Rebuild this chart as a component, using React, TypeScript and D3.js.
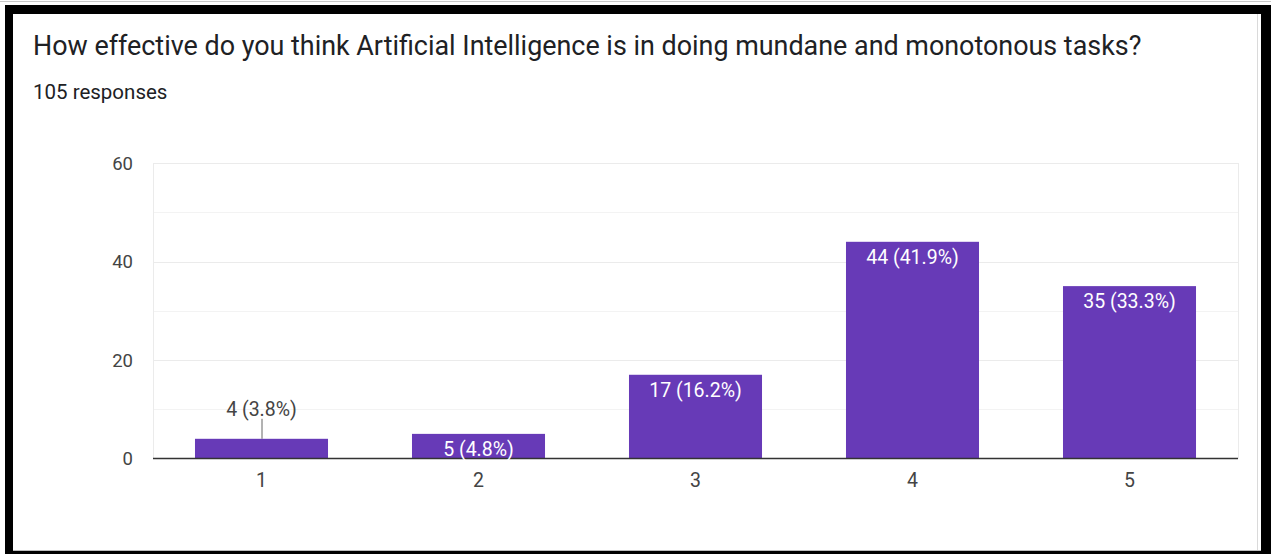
import { useEffect, useRef } from "react";
import * as d3 from "d3";

const categories = ["1", "2", "3", "4", "5"];
const counts = [4, 5, 17, 44, 35];
const percents = ["3.8%", "4.8%", "16.2%", "41.9%", "33.3%"];
const yTicks = [0, 20, 40, 60];
const title = "How effective do you think Artificial Intelligence is in doing mundane and monotonous tasks?";
const subtitle = "105 responses";

export default function App() {
  const ref = useRef<HTMLDivElement>(null);

  useEffect(() => {
    if (!ref.current) return;
    d3.select(ref.current).selectAll("*").remove();

    const W = 1271;
    const H = 554;
    const plot = { left: 153, right: 1238, top: 163, bottom: 458.5 };

    const svg = d3
      .select(ref.current)
      .append("svg")
      .attr("width", W)
      .attr("height", H)
      .style("display", "block")
      .style("font-family", "Roboto, Arial, sans-serif");

    // frame
    svg.append("rect").attr("width", W).attr("height", H).attr("fill", "#fff");
    svg.append("line").attr("x1", 0).attr("x2", W).attr("y1", 1.5).attr("y2", 1.5)
      .attr("stroke", "#c8c8c8").attr("stroke-width", 1);
    svg.append("rect").attr("x", 5).attr("y", 5).attr("width", W - 5).attr("height", H)
      .attr("fill", "#000");
    svg.append("rect").attr("x", 13).attr("y", 14).attr("width", 1248).attr("height", 537)
      .attr("fill", "#fff");
    svg.append("line").attr("x1", 1257.5).attr("x2", 1257.5).attr("y1", 14).attr("y2", 551)
      .attr("stroke", "#dadada");
    svg.append("line").attr("x1", 13).attr("x2", 1261).attr("y1", 550.5).attr("y2", 550.5)
      .attr("stroke", "#bdbdbd");

    svg.append("text").attr("x", 33).attr("y", 55).attr("font-size", 26.9)
      .attr("fill", "#202124").text(title);
    svg.append("text").attr("x", 33).attr("y", 99).attr("font-size", 20.5)
      .attr("fill", "#202124").text(subtitle);

    const x = d3.scaleBand<string>().domain(categories)
      .range([plot.left, plot.right]).paddingInner(0.387).paddingOuter(0.1935);
    const y = d3.scaleLinear().domain([0, 60]).range([plot.bottom, plot.top]);

    // gridlines (major + minor)
    const grid = svg.append("g");
    d3.range(10, 61, 10).forEach((v) => {
      grid.append("line").attr("x1", plot.left).attr("x2", plot.right)
        .attr("y1", Math.round(y(v)) + 0.5).attr("y2", Math.round(y(v)) + 0.5)
        .attr("stroke", v % 20 === 0 ? "#ebebeb" : "#f3f3f3");
    });
    [plot.left, plot.right].forEach((xx) => {
      grid.append("line").attr("x1", xx + 0.5).attr("x2", xx + 0.5)
        .attr("y1", plot.top).attr("y2", plot.bottom).attr("stroke", "#ebebeb");
    });

    // y axis labels
    svg.append("g").selectAll("text").data(yTicks).enter().append("text")
      .attr("x", 133).attr("y", (d) => y(d)).attr("dy", "0.36em")
      .attr("text-anchor", "end").attr("font-size", 18.5).attr("fill", "#444")
      .text((d) => d);

    const data = categories.map((c, i) => ({ c, v: counts[i], p: percents[i] }));

    svg.append("g").selectAll("rect").data(data).enter().append("rect")
      .attr("x", (d) => x(d.c) || 0).attr("width", x.bandwidth())
      .attr("y", (d) => y(d.v)).attr("height", (d) => plot.bottom - y(d.v))
      .attr("fill", "#673ab7");

    // baseline
    svg.append("line").attr("x1", plot.left).attr("x2", plot.right)
      .attr("y1", plot.bottom).attr("y2", plot.bottom)
      .attr("stroke", "#333").attr("stroke-width", 1.5);

    // value labels
    data.forEach((d) => {
      const cx = (x(d.c) || 0) + x.bandwidth() / 2;
      const h = plot.bottom - y(d.v);
      if (h < 22) {
        svg.append("line").attr("x1", cx + 0.5).attr("x2", cx + 0.5)
          .attr("y1", y(d.v) - 20).attr("y2", y(d.v))
          .attr("stroke", "#666").attr("stroke-width", 1);
        svg.append("text").attr("x", cx).attr("y", y(d.v) - 23)
          .attr("text-anchor", "middle").attr("font-size", 19.5).attr("fill", "#444")
          .text(`${d.v} (${d.p})`);
      } else {
        svg.append("text").attr("x", cx).attr("y", y(d.v) + 22)
          .attr("text-anchor", "middle").attr("font-size", 19.5).attr("fill", "#fff")
          .text(`${d.v} (${d.p})`);
      }
    });

    // x labels
    svg.append("g").selectAll("text").data(categories).enter().append("text")
      .attr("x", (d) => (x(d) || 0) + x.bandwidth() / 2).attr("y", 487)
      .attr("text-anchor", "middle").attr("font-size", 19.5).attr("fill", "#444")
      .text((d) => d);
  }, []);

  return (
    <div
      ref={ref}
      style={{ position: "fixed", left: 0, top: 0, width: 1271, height: 554 }}
    />
  );
}
